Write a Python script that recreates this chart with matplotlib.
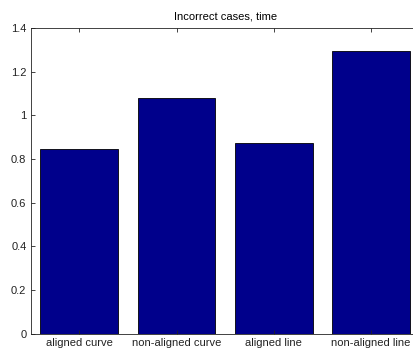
import matplotlib
matplotlib.use('Agg')
import matplotlib.pyplot as plt

plt.rcParams['font.family'] = ['Liberation Sans', 'DejaVu Sans']

categories = ['aligned curve', 'non-aligned curve', 'aligned line', 'non-aligned line']
values = [0.845, 1.08, 0.873, 1.292]
yticks = [0, 0.2, 0.4, 0.6, 0.8, 1, 1.2, 1.4]
ytick_labels = ['0', '0.2', '0.4', '0.6', '0.8', '1', '1.2', '1.4']

fig = plt.figure(figsize=(4.14, 3.56), dpi=100)
# axes run a little past the right edge, like the cropped original
ax = fig.add_axes([0.074, 0.062, 0.94, 0.86])

pos = list(range(1, len(categories) + 1))
ax.bar(pos, values, width=0.8, color='#00008B', edgecolor='black', linewidth=0.6)

ax.set_xlim(0.5, 4.5)
ax.set_ylim(0, 1.4)
ax.set_xticks(pos)
ax.set_xticklabels(categories)
ax.set_yticks(yticks)
ax.set_yticklabels(ytick_labels)
ax.tick_params(direction='in', length=3, width=0.6, labelsize=8, colors='#222222',
               top=True, right=True, pad=3)
for s in ax.spines.values():
    s.set_linewidth(0.6)
    s.set_color('#222222')

ax.set_title('Incorrect cases, time', fontsize=8, pad=6)

fig.savefig('out.png', dpi=100)
